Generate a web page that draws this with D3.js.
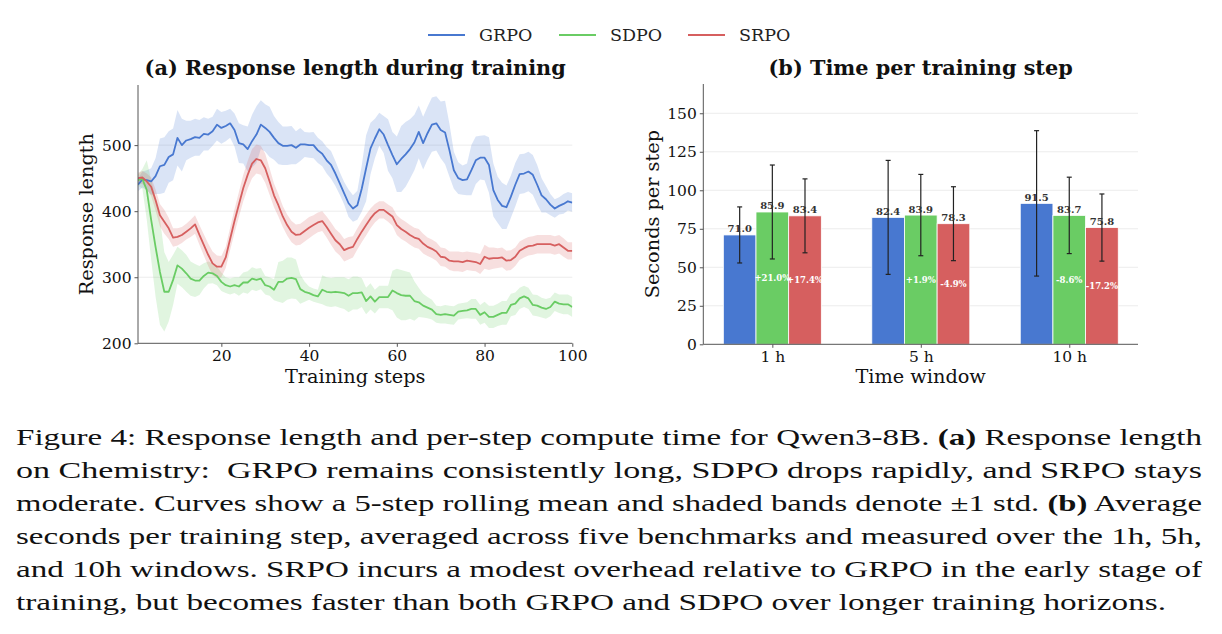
<!DOCTYPE html>
<html><head><meta charset="utf-8">
<script src="https://cdn.jsdelivr.net/npm/d3@7"></script>
<style>
html,body{margin:0;padding:0;background:#fff;}
svg{display:block;}
</style></head>
<body>
<svg id="fig" width="1222" height="634"></svg>
<script>
// ---------- DATA ----------
const seriesNames = ["GRPO", "SDPO", "SRPO"];
const steps = d3.range(1, 101);
const grpoMean = [440,448,447,445,453,468,470,482,486,511,
  500,507,509,512,511,517,516,521,531,526,
  529,533,523,503,501,494,506,516,531,526,
  520,511,503,499,499,500,496,501,501,500,
  500,492,487,477,470,457,442,427,412,404,
  409,434,465,495,510,524,516,500,485,471,
  479,486,494,504,520,503,518,531,533,523,
  519,492,462,450,447,448,462,477,481,481,
  470,432,417,408,406,422,440,456,457,460,
  455,440,424,418,410,404,408,411,415,413];
const grpoStd = [10,12,15,20,27,42,42,39,39,42,
  40,30,28,28,27,25,24,22,24,24,
  23,22,25,30,29,34,40,43,37,36,
  38,33,32,29,29,29,25,25,19,19,
  20,19,19,20,21,19,17,17,21,20,
  22,35,50,39,30,25,28,39,35,42,
  50,49,45,42,40,40,40,41,41,43,
  48,40,28,24,22,24,38,36,33,34,
  42,40,35,35,33,32,33,30,30,30,
  30,30,26,20,16,14,13,15,14,14];
const sdpoMean = [447,449,432,387,346,308,278,278,296,318,
  313,306,298,295,295,302,307,306,302,293,
  288,286,288,286,292,292,298,296,298,288,
  286,281,293,293,298,299,297,282,278,276,
  273,271,281,278,277,278,277,276,272,276,
  276,277,264,271,263,270,270,270,280,276,
  273,272,272,264,262,257,254,251,244,243,
  244,243,242,248,249,250,252,252,243,247,
  240,240,243,246,246,258,260,268,271,268,
  258,257,254,252,255,263,260,259,259,255];
const sdpoStd = [8,15,45,60,75,80,60,45,38,28,
  28,28,26,25,22,19,17,15,14,14,
  12,12,12,14,15,17,17,17,16,14,
  14,16,30,32,32,31,30,22,15,10,
  10,10,22,22,22,22,23,24,25,25,
  25,22,20,20,18,17,17,17,30,37,
  38,37,35,30,22,18,16,15,13,13,
  14,14,14,12,12,12,15,15,15,16,
  17,17,17,18,18,17,17,16,16,16,
  16,16,15,15,14,14,14,15,15,15];
const srpoMean = [450,451,445,437,417,394,384,374,360,361,
  364,369,374,380,364,349,334,321,316,316,
  330,358,385,410,435,455,472,479,477,465,
  445,424,409,392,379,369,364,365,370,375,
  379,383,385,376,366,356,350,341,344,346,
  358,369,379,389,397,402,402,397,392,379,
  373,369,364,360,358,351,346,343,339,331,
  330,325,324,324,323,325,324,323,320,331,
  328,329,329,330,325,326,331,340,344,347,
  348,350,350,350,350,348,350,345,340,340];
const srpoStd = [8,10,12,14,16,17,18,16,14,13,
  12,12,13,14,15,16,17,18,17,16,
  16,17,18,19,20,21,22,22,22,22,
  20,18,17,16,16,16,16,16,16,16,
  15,15,15,16,17,17,17,17,17,16,
  16,16,16,15,14,13,13,13,14,15,
  15,15,15,15,15,15,14,14,14,14,
  14,14,15,15,15,14,14,14,15,18,
  17,16,15,15,15,15,14,14,14,14,
  14,14,14,14,14,14,14,14,13,13];
const lenYTicks = [200, 300, 400, 500];
const lenXTicks = [20, 40, 60, 80, 100];

const windows = ["1 h", "5 h", "10 h"];
const grpoTime = [71.0, 82.4, 91.5];
const sdpoTime = [85.9, 83.9, 83.7];
const srpoTime = [83.4, 78.3, 75.8];
const grpoTimeStd = [18.2, 37.0, 47.2];
const sdpoTimeStd = [30.5, 26.4, 24.8];
const srpoTimeStd = [24.0, 24.0, 21.8];
const sdpoPct = ["+21.0%", "+1.9%", "-8.6%"];
const srpoPct = ["+17.4%", "-4.9%", "-17.2%"];
const timeYTicks = [0, 25, 50, 75, 100, 125, 150];

const captionLines = [
  [["Figure 4: Response length and per-step compute time for Qwen3-8B. ", false], ["(a)", true], [" Response length", false]],
  [["on Chemistry:  GRPO remains consistently long, SDPO drops rapidly, and SRPO stays", false]],
  [["moderate. Curves show a 5-step rolling mean and shaded bands denote \u00b11 std. ", false], ["(b)", true], [" Average", false]],
  [["seconds per training step, averaged across five benchmarks and measured over the 1h, 5h,", false]],
  [["and 10h windows. SRPO incurs a modest overhead relative to GRPO in the early stage of", false]],
  [["training, but becomes faster than both GRPO and SDPO over longer training horizons.", false]]
];

// ---------- STYLE ----------
const colors = {GRPO: "#4878d0", SDPO: "#6acc64", SRPO: "#d65f5f"};
const serif = "'DejaVu Serif', serif";
const spineColor = "#555";
const gridColor = "#ececec";
const tickFont = 15.5, labelFont = 19.3, titleFont = 20.8;

const svg = d3.select("#fig");

// ---------- LEGEND ----------
const legendItems = [{n:"GRPO", x:428}, {n:"SDPO", x:559}, {n:"SRPO", x:688}];
const lg = svg.append("g");
legendItems.forEach(it => {
  lg.append("line").attr("x1", it.x).attr("x2", it.x + 37).attr("y1", 35).attr("y2", 35)
    .attr("stroke", colors[it.n]).attr("stroke-width", 1.8);
  lg.append("text").attr("x", it.x + 51).attr("y", 41).text(it.n)
    .attr("font-family", serif).attr("font-size", 17.5).attr("fill", "#222");
});

// ---------- LEFT: response length ----------
const L = {x0: 138, x1: 572.3, y0: 343.3, y1: 85};
const xL = d3.scaleLinear().domain([1, 100]).range([L.x0, L.x1]);
const yL = d3.scaleLinear().domain([200, 591]).range([L.y0, L.y1]);
const gL = svg.append("g");

gL.selectAll("line.grid").data(lenYTicks.filter(v => v > 200)).join("line")
  .attr("x1", L.x0).attr("x2", L.x1).attr("y1", d => yL(d)).attr("y2", d => yL(d))
  .attr("stroke", gridColor).attr("stroke-width", 1);

const series = [
  {n: "GRPO", m: grpoMean, s: grpoStd},
  {n: "SDPO", m: sdpoMean, s: sdpoStd},
  {n: "SRPO", m: srpoMean, s: srpoStd}
];
const clipId = "clipL";
svg.append("defs").append("clipPath").attr("id", clipId).append("rect")
  .attr("x", L.x0).attr("y", L.y1).attr("width", L.x1 - L.x0).attr("height", L.y0 - L.y1);
const plotL = gL.append("g").attr("clip-path", `url(#${clipId})`);
series.forEach(sr => {
  const area = d3.area().x((d, i) => xL(steps[i]))
    .y0((d, i) => yL(sr.m[i] - sr.s[i])).y1((d, i) => yL(sr.m[i] + sr.s[i]));
  plotL.append("path").datum(sr.m).attr("d", area).attr("fill", colors[sr.n]).attr("fill-opacity", 0.2);
});
series.forEach(sr => {
  const line = d3.line().x((d, i) => xL(steps[i])).y(d => yL(d));
  plotL.append("path").datum(sr.m).attr("d", line).attr("fill", "none")
    .attr("stroke", colors[sr.n]).attr("stroke-width", 1.8).attr("stroke-linejoin", "round");
});

const axL = gL.append("g").attr("transform", `translate(0,${L.y0})`)
  .call(d3.axisBottom(xL).tickValues(lenXTicks).tickSize(3.5).tickPadding(3).tickSizeOuter(0));
const ayL = gL.append("g").attr("transform", `translate(${L.x0},0)`)
  .call(d3.axisLeft(yL).tickValues(lenYTicks).tickSize(3.5).tickPadding(3).tickSizeOuter(0));
[axL, ayL].forEach(a => {
  a.select(".domain").attr("stroke", spineColor);
  a.selectAll(".tick line").attr("stroke", spineColor);
  a.selectAll("text").attr("font-family", serif).attr("font-size", tickFont).attr("fill", "#111");
});
ayL.select(".domain").attr("d", `M0,${L.y1}V${L.y0}`);
axL.select(".domain").attr("d", `M${L.x0},0H${L.x1}`);

svg.append("text").attr("x", (L.x0 + L.x1) / 2).attr("y", 383).attr("text-anchor", "middle")
  .attr("font-family", serif).attr("font-size", labelFont).attr("fill", "#111").text("Training steps");
svg.append("text").attr("transform", `translate(93,${(L.y0 + L.y1) / 2}) rotate(-90)`).attr("text-anchor", "middle")
  .attr("font-family", serif).attr("font-size", labelFont).attr("fill", "#111").text("Response length");
svg.append("text").attr("x", (L.x0 + L.x1) / 2).attr("y", 75).attr("text-anchor", "middle")
  .attr("font-family", serif).attr("font-weight", "bold").attr("font-size", titleFont).attr("fill", "#111")
  .text("(a) Response length during training");

// ---------- RIGHT: time per step ----------
const R = {x0: 703.3, x1: 1138, y0: 344.3, y1: 84};
const xR = d3.scaleLinear().domain([-0.465, 2.463]).range([R.x0, R.x1]);
const yR = d3.scaleLinear().domain([0, 169]).range([R.y0, R.y1]);
const barW = 0.22;
const gR = svg.append("g");
gR.selectAll("line.grid").data(timeYTicks.filter(v => v > 0)).join("line")
  .attr("x1", R.x0).attr("x2", R.x1).attr("y1", d => yR(d)).attr("y2", d => yR(d))
  .attr("stroke", gridColor).attr("stroke-width", 1);

const barSeries = [
  {n: "GRPO", v: grpoTime, s: grpoTimeStd, off: -barW, pct: null},
  {n: "SDPO", v: sdpoTime, s: sdpoTimeStd, off: 0, pct: sdpoPct},
  {n: "SRPO", v: srpoTime, s: srpoTimeStd, off: barW, pct: srpoPct}
];
barSeries.forEach(bs => {
  const g = gR.append("g");
  windows.forEach((w, i) => {
    const cx = i + bs.off;
    g.append("rect").attr("x", xR(cx - barW / 2)).attr("width", xR(cx + barW / 2) - xR(cx - barW / 2))
      .attr("y", yR(bs.v[i])).attr("height", yR(0) - yR(bs.v[i]))
      .attr("fill", colors[bs.n]).attr("stroke", "#fff").attr("stroke-width", 0.8);
  });
});
barSeries.forEach(bs => {
  windows.forEach((w, i) => {
    const cx = xR(i + bs.off);
    const lo = yR(bs.v[i] - bs.s[i]), hi = yR(bs.v[i] + bs.s[i]);
    gR.append("line").attr("x1", cx).attr("x2", cx).attr("y1", lo).attr("y2", hi)
      .attr("stroke", "#222").attr("stroke-width", 1.2);
    [lo, hi].forEach(yy => gR.append("line").attr("x1", cx - 2.5).attr("x2", cx + 2.5).attr("y1", yy).attr("y2", yy)
      .attr("stroke", "#222").attr("stroke-width", 1.2));
    gR.append("text").attr("x", cx).attr("y", yR(bs.v[i]) - 2.5).attr("text-anchor", "middle")
      .attr("font-family", serif).attr("font-weight", "bold").attr("font-size", 10).attr("fill", "#333")
      .text(bs.v[i].toFixed(1));
    if (bs.pct) {
      gR.append("text").attr("x", cx).attr("y", yR(bs.v[i] / 2)).attr("dy", "0.35em").attr("text-anchor", "middle")
        .attr("font-family", serif).attr("font-weight", "bold").attr("font-size", 8.5).attr("fill", "#fff")
        .text(bs.pct[i]);
    }
  });
});

const axR = gR.append("g").attr("transform", `translate(0,${R.y0})`)
  .call(d3.axisBottom(xR).tickValues([0, 1, 2]).tickFormat((d, i) => windows[i]).tickSize(3.5).tickPadding(3).tickSizeOuter(0));
const ayR = gR.append("g").attr("transform", `translate(${R.x0},0)`)
  .call(d3.axisLeft(yR).tickValues(timeYTicks).tickSize(3.5).tickPadding(3).tickSizeOuter(0));
[axR, ayR].forEach(a => {
  a.select(".domain").attr("stroke", spineColor);
  a.selectAll(".tick line").attr("stroke", spineColor);
  a.selectAll("text").attr("font-family", serif).attr("font-size", tickFont).attr("fill", "#111");
});
ayR.select(".domain").attr("d", `M0,${R.y1}V${R.y0}`);
axR.select(".domain").attr("d", `M${R.x0},0H${R.x1}`);

svg.append("text").attr("x", (R.x0 + R.x1) / 2).attr("y", 383).attr("text-anchor", "middle")
  .attr("font-family", serif).attr("font-size", labelFont).attr("fill", "#111").text("Time window");
svg.append("text").attr("transform", `translate(659,${(R.y0 + R.y1) / 2}) rotate(-90)`).attr("text-anchor", "middle")
  .attr("font-family", serif).attr("font-size", labelFont).attr("fill", "#111").text("Seconds per step");
svg.append("text").attr("x", (R.x0 + R.x1) / 2).attr("y", 75).attr("text-anchor", "middle")
  .attr("font-family", serif).attr("font-weight", "bold").attr("font-size", titleFont).attr("fill", "#111")
  .text("(b) Time per training step");

// ---------- CAPTION ----------
const capX = 16, capW = 1186, capBase = 445, capLead = 33;
const capFont = "'Liberation Serif', 'Times New Roman', serif";
const capNodes = [];
captionLines.forEach((parts, li) => {
  const t = svg.append("text").attr("x", capX).attr("y", capBase + li * capLead)
    .attr("font-family", capFont).attr("font-size", 24).attr("fill", "#111")
    .attr("xml:space", "preserve").style("white-space", "pre");
  parts.forEach(p => t.append("tspan").attr("font-weight", p[1] ? "bold" : "normal").text(p[0]));
  capNodes.push(t);
});
const ratios = capNodes.slice(0, 5).map(t => capW / t.node().getComputedTextLength());
const avgRatio = d3.mean(ratios);
capNodes.forEach((t, i) => {
  const w = i < 5 ? capW : t.node().getComputedTextLength() * avgRatio;
  t.attr("textLength", w).attr("lengthAdjust", "spacingAndGlyphs");
});
</script>
</body></html>
